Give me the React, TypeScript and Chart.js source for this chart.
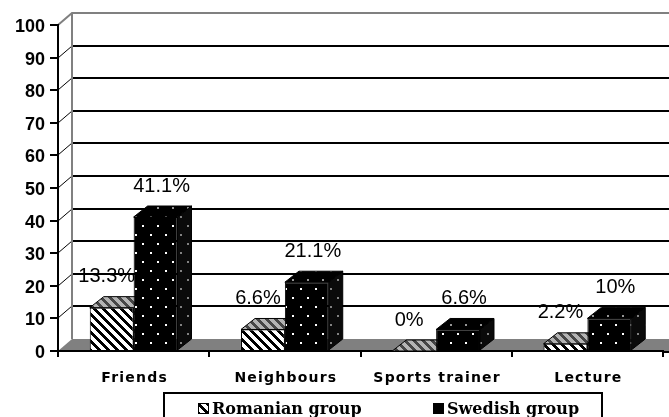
import { useEffect, useRef } from 'react';
import { Chart, registerables } from 'chart.js';
Chart.register(...registerables);

const categories = ['Friends', 'Neighbours', 'Sports trainer', 'Lecture'];
const romanian = [13.3, 6.6, 0, 2.2];
const swedish = [41.1, 21.1, 6.6, 10];
const seriesNames = ['Romanian group', 'Swedish group'];
const yMax = 100;
const yStep = 10;

const DX = 14; // wall depth
const DY = 12;
const BDX = 14; // bar depth
const BDY = 11;

type RGB = [number, number, number];

function makePattern(
  ctx: CanvasRenderingContext2D,
  w: number,
  h: number,
  fn: (x: number, y: number) => RGB
): CanvasPattern {
  const c = document.createElement('canvas');
  c.width = w;
  c.height = h;
  const cx = c.getContext('2d')!;
  const img = cx.createImageData(w, h);
  for (let y = 0; y < h; y++) {
    for (let x = 0; x < w; x++) {
      const [r, g, b] = fn(x, y);
      const i = (y * w + x) * 4;
      img.data[i] = r;
      img.data[i + 1] = g;
      img.data[i + 2] = b;
      img.data[i + 3] = 255;
    }
  }
  cx.putImageData(img, 0, 0);
  return ctx.createPattern(c, 'repeat')!;
}

function stripes(fg: RGB, bg: RGB) {
  return (x: number, y: number): RGB => (((x - y) % 9) + 9) % 9 < 4 ? fg : bg;
}
function dots(fg: RGB, bg: RGB) {
  return (x: number, y: number): RGB => {
    const a = x < 2 && y < 2;
    const b = x >= 7 && x < 9 && y >= 9 && y < 11;
    return a || b ? fg : bg;
  };
}

export default function App() {
  const ref = useRef<HTMLCanvasElement | null>(null);

  useEffect(() => {
    const canvas = ref.current!;
    const ctx = canvas.getContext('2d')!;
    const W: RGB = [255, 255, 255];
    const K: RGB = [0, 0, 0];
    const hatchFront = makePattern(ctx, 9, 9, stripes(K, W));
    const hatchTop = makePattern(ctx, 9, 9, stripes([70, 70, 70], [180, 180, 180]));
    const hatchSide = makePattern(ctx, 9, 9, stripes([40, 40, 40], [150, 150, 150]));
    const dotFront = makePattern(ctx, 15, 18, dots(W, K));
    const dotTop = makePattern(ctx, 15, 18, dots([150, 150, 150], K));
    const dotSide = makePattern(ctx, 15, 18, dots([130, 130, 130], [10, 10, 10]));
    const tops = [hatchTop, dotTop];
    const sides = [hatchSide, dotSide];
    const fronts = [hatchFront, dotFront];

    const threeD = {
      id: 'threeD',
      beforeDraw(chart: any) {
        const c = chart.ctx as CanvasRenderingContext2D;
        const a = chart.chartArea;
        const ys = chart.scales.y;
        const w = chart.width;
        c.save();
        c.fillStyle = '#fff';
        c.fillRect(0, 0, w, chart.height);
        const y0 = ys.getPixelForValue(0);
        const yTop = ys.getPixelForValue(yMax);
        // grid lines on back wall
        for (const t of ys.ticks) {
          if (t.value === 0 || t.value === yMax) continue;
          const py = Math.round(ys.getPixelForValue(t.value));
          c.strokeStyle = '#000';
          c.lineWidth = 2;
          c.beginPath();
          c.moveTo(a.left + DX, py - DY);
          c.lineTo(w, py - DY);
          c.stroke();
          c.lineWidth = 1;
          c.beginPath();
          c.moveTo(a.left, py);
          c.lineTo(a.left + DX, py - DY);
          c.stroke();
        }
        // wall edges
        c.strokeStyle = '#808080';
        c.lineWidth = 2;
        c.beginPath();
        c.moveTo(a.left, yTop);
        c.lineTo(a.left + DX, yTop - DY);
        c.lineTo(w, yTop - DY);
        c.stroke();
        c.beginPath();
        c.moveTo(a.left + DX, yTop - DY);
        c.lineTo(a.left + DX, y0 - DY);
        c.stroke();
        // floor
        c.fillStyle = '#808080';
        c.beginPath();
        c.moveTo(a.left, y0);
        c.lineTo(a.left + DX, y0 - DY);
        c.lineTo(w, y0 - DY);
        c.lineTo(w, y0);
        c.closePath();
        c.fill();
        c.restore();
      },
      beforeDatasetsDraw(chart: any) {
        const c = chart.ctx as CanvasRenderingContext2D;
        c.save();
        c.strokeStyle = '#000';
        c.lineWidth = 1;
        const metas = [chart.getDatasetMeta(0), chart.getDatasetMeta(1)];
        for (let i = 0; i < categories.length; i++) {
          for (let d = 0; d < 2; d++) {
            const el = metas[d].data[i];
            const { x, y, base, width } = el.getProps(['x', 'y', 'base', 'width'], true);
            const l = x - width / 2;
            const r = x + width / 2;
            // side
            c.fillStyle = sides[d];
            c.beginPath();
            c.moveTo(r, y);
            c.lineTo(r + BDX, y - BDY);
            c.lineTo(r + BDX, base - BDY);
            c.lineTo(r, base);
            c.closePath();
            c.fill();
            c.stroke();
            // top
            c.fillStyle = tops[d];
            c.beginPath();
            c.moveTo(l, y);
            c.lineTo(l + BDX, y - BDY);
            c.lineTo(r + BDX, y - BDY);
            c.lineTo(r, y);
            c.closePath();
            c.fill();
            c.stroke();
          }
        }
        // value labels
        c.fillStyle = '#000';
        c.font = '20px "Liberation Sans", Arial, sans-serif';
        c.textAlign = 'center';
        c.textBaseline = 'middle';
        const vals = [romanian, swedish];
        for (let d = 0; d < 2; d++) {
          for (let i = 0; i < categories.length; i++) {
            const el = metas[d].data[i];
            const { x, y } = el.getProps(['x', 'y'], true);
            const shift = d === 0 ? -5 : 6;
            c.fillText(`${vals[d][i]}%`, x + shift, y - 31);
          }
        }
        c.restore();
      },
      afterDraw(chart: any) {
        const c = chart.ctx as CanvasRenderingContext2D;
        const a = chart.chartArea;
        const xs = chart.scales.x;
        c.save();
        // extend x axis line to the edge
        c.strokeStyle = '#000';
        c.lineWidth = 2;
        c.beginPath();
        c.moveTo(a.right, a.bottom + 1);
        c.lineTo(chart.width, a.bottom + 1);
        c.stroke();
        // category labels
        c.fillStyle = '#000';
        c.font = 'bold 14px "DejaVu Sans", sans-serif';
        (c as any).letterSpacing = '1.2px';
        c.textAlign = 'center';
        c.textBaseline = 'middle';
        categories.forEach((cat, i) => {
          c.fillText(cat, xs.getPixelForValue(i) + 1, 378);
        });
        (c as any).letterSpacing = '0px';
        // legend
        const bx = 164;
        const by = 393;
        const bw = 438;
        c.lineWidth = 2;
        c.strokeRect(bx, by, bw, 40);
        const items = [
          { x: 198, fill: hatchFront },
          { x: 433, fill: dotFront },
        ];
        c.font = 'bold 16px "DejaVu Serif", serif';
        c.textAlign = 'left';
        c.textBaseline = 'alphabetic';
        items.forEach((it, i) => {
          c.fillStyle = i === 0 ? '#fff' : '#000';
          c.fillRect(it.x, 403, 10, 10);
          if (i === 0) {
            c.fillStyle = fronts[0];
            c.fillRect(it.x, 403, 10, 10);
          }
          c.lineWidth = 1;
          c.strokeStyle = '#000';
          c.strokeRect(it.x + 0.5, 403.5, 10, 10);
          c.fillStyle = '#000';
          c.fillText(seriesNames[i], it.x + 14, 414);
        });
        c.restore();
      },
    };

    const chart = new Chart(canvas, {
      type: 'bar',
      data: {
        labels: categories,
        datasets: [
          {
            label: seriesNames[0],
            data: romanian,
            backgroundColor: hatchFront,
            borderColor: '#000',
            borderWidth: 1,
            categoryPercentage: 0.58,
            barPercentage: 1,
          },
          {
            label: seriesNames[1],
            data: swedish,
            backgroundColor: dotFront,
            borderColor: '#000',
            borderWidth: 1,
            categoryPercentage: 0.58,
            barPercentage: 1,
          },
        ],
      },
      options: {
        animation: false,
        responsive: false,
        devicePixelRatio: 1,
        layout: { padding: { top: 25, right: 6, left: 0, bottom: 0 } },
        plugins: { legend: { display: false }, tooltip: { enabled: false } },
        scales: {
          x: {
            z: 1,
            grid: { drawOnChartArea: false, tickLength: 6, color: '#000', lineWidth: 2, offset: true },
            border: { color: '#000', width: 2 },
            ticks: { display: false },
            afterFit: (s: any) => {
              s.height = 66;
            },
          },
          y: {
            min: 0,
            max: yMax,
            ticks: {
              stepSize: yStep,
              color: '#000',
              font: { family: '"Liberation Sans", Arial, sans-serif', weight: 'bold', size: 18 },
              padding: 5,
              labelOffset: 2,
            },
            grid: { drawOnChartArea: false, tickLength: 8, color: '#000', lineWidth: 2 },
            border: { color: '#000', width: 2 },
            afterFit: (s: any) => {
              s.width = 58;
            },
          },
        },
      } as any,
      plugins: [threeD],
    });
    return () => chart.destroy();
  }, []);

  return (
    <div style={{ position: 'fixed', left: 0, top: 0, width: 669, height: 417 }}>
      <canvas ref={ref} width={669} height={417} style={{ display: 'block' }} />
    </div>
  );
}
